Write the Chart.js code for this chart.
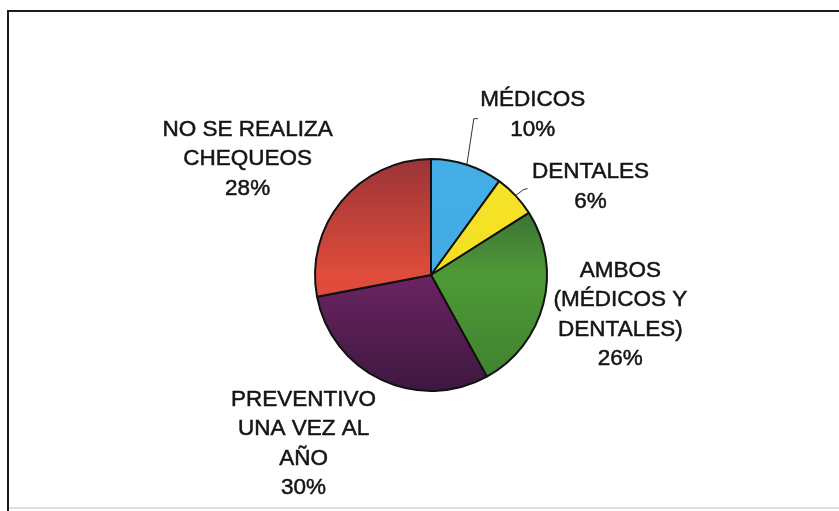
<!DOCTYPE html>
<html>
<head>
<meta charset="utf-8">
<script src="https://cdn.jsdelivr.net/npm/chart.js@4/dist/chart.umd.min.js"></script>
<style>
  html, body { margin: 0; padding: 0; background: #ffffff; }
  #c { display: block; }
</style>
</head>
<body>
<canvas id="c" width="839" height="511"></canvas>
<script>
// ---- data ----
const categories = ['MÉDICOS', 'DENTALES', 'AMBOS (MÉDICOS Y DENTALES)', 'PREVENTIVO UNA VEZ AL AÑO', 'NO SE REALIZA CHEQUEOS'];
const labelLines = [
  ['MÉDICOS'],
  ['DENTALES'],
  ['AMBOS', '(MÉDICOS Y', 'DENTALES)'],
  ['PREVENTIVO', 'UNA VEZ AL', 'AÑO'],
  ['NO SE REALIZA', 'CHEQUEOS']
];
const values = [10, 6, 26, 30, 28];

// ---- styles (not data) ----
const sliceGradients = [
  ['#45aee6', '#3fa8e2'],
  ['#f7e52a', '#f0d818'],
  ['#2d5235', '#4e9a36', '#3f7e2f'],
  ['#7e2c71', '#6a2462', '#3d183f'],
  ['#9a3438', '#e04c3a', '#d8483a']
];
// label block centre offset from the slice's outer mid-point
const labelOffsets = [[66, -50], [75, -9], [77, 11], [-78, 64], [-94, -42]];
// leader lines: [elbow offset from arc point, tick offset from elbow] or null
const leaders = [[[7, -46], [4, 0]], [[8, -6], [4, -1]], null, null, null];

const framePlugin = {
  id: 'frame',
  beforeDraw(chart) {
    const ctx = chart.ctx;
    ctx.save();
    ctx.fillStyle = '#ffffff';
    ctx.fillRect(0, 0, chart.width, chart.height);
    ctx.strokeStyle = '#1c1c1c';
    ctx.lineWidth = 2;
    ctx.beginPath();
    ctx.moveTo(8, 511);
    ctx.lineTo(8, 11);
    ctx.lineTo(839, 11);
    ctx.stroke();
    ctx.strokeStyle = '#d4d4d4';
    ctx.lineWidth = 1.5;
    ctx.beginPath();
    ctx.moveTo(9, 508);
    ctx.lineTo(839, 508);
    ctx.stroke();
    ctx.restore();
  }
};

const labelPlugin = {
  id: 'sliceLabels',
  afterDatasetsDraw(chart) {
    const ctx = chart.ctx;
    const meta = chart.getDatasetMeta(0);
    const total = values.reduce((a, b) => a + b, 0);
    ctx.save();
    ctx.font = '22.5px "Liberation Sans", Arial, sans-serif';
    ctx.fillStyle = '#151515';
    ctx.strokeStyle = '#151515';
    ctx.lineWidth = 0.5;
    ctx.textAlign = 'center';
    ctx.textBaseline = 'middle';
    const lh = 29.5;
    meta.data.forEach((arc, i) => {
      const p = arc.getProps(['x', 'y', 'startAngle', 'endAngle', 'outerRadius'], true);
      const mid = (p.startAngle + p.endAngle) / 2;
      const ax = p.x + Math.cos(mid) * p.outerRadius;
      const ay = p.y + Math.sin(mid) * p.outerRadius;
      if (leaders[i]) {
        const e = leaders[i];
        ctx.save();
        ctx.strokeStyle = '#333333';
        ctx.lineWidth = 1;
        ctx.beginPath();
        ctx.moveTo(ax, ay);
        ctx.lineTo(ax + e[0][0], ay + e[0][1]);
        ctx.lineTo(ax + e[0][0] + e[1][0], ay + e[0][1] + e[1][1]);
        ctx.stroke();
        ctx.restore();
      }
      const lines = labelLines[i].concat([Math.round(values[i] / total * 100) + '%']);
      const cx = ax + labelOffsets[i][0];
      const cy = ay + labelOffsets[i][1];
      const top = cy - (lines.length - 1) * lh / 2;
      lines.forEach((t, k) => {
        ctx.fillText(t, cx, top + k * lh);
        ctx.strokeText(t, cx, top + k * lh);
      });
    });
    ctx.restore();
  }
};

function sliceFill(context) {
  const chart = context.chart;
  const area = chart.chartArea;
  const i = context.dataIndex;
  if (!area) return sliceGradients[i][0];
  const stops = sliceGradients[i];
  const g = chart.ctx.createLinearGradient(0, area.top, 0, area.bottom);
  stops.forEach((c, k) => g.addColorStop(k / (stops.length - 1), c));
  return g;
}

new Chart(document.getElementById('c'), {
  type: 'pie',
  data: {
    labels: categories,
    datasets: [{
      data: values,
      backgroundColor: sliceFill,
      borderColor: '#111111',
      borderWidth: 2
    }]
  },
  options: {
    responsive: false,
    animation: false,
    layout: { padding: { left: 314, right: 291, top: 158, bottom: 119 } },
    plugins: {
      legend: { display: false },
      tooltip: { enabled: false }
    }
  },
  plugins: [framePlugin, labelPlugin]
});
</script>
</body>
</html>
